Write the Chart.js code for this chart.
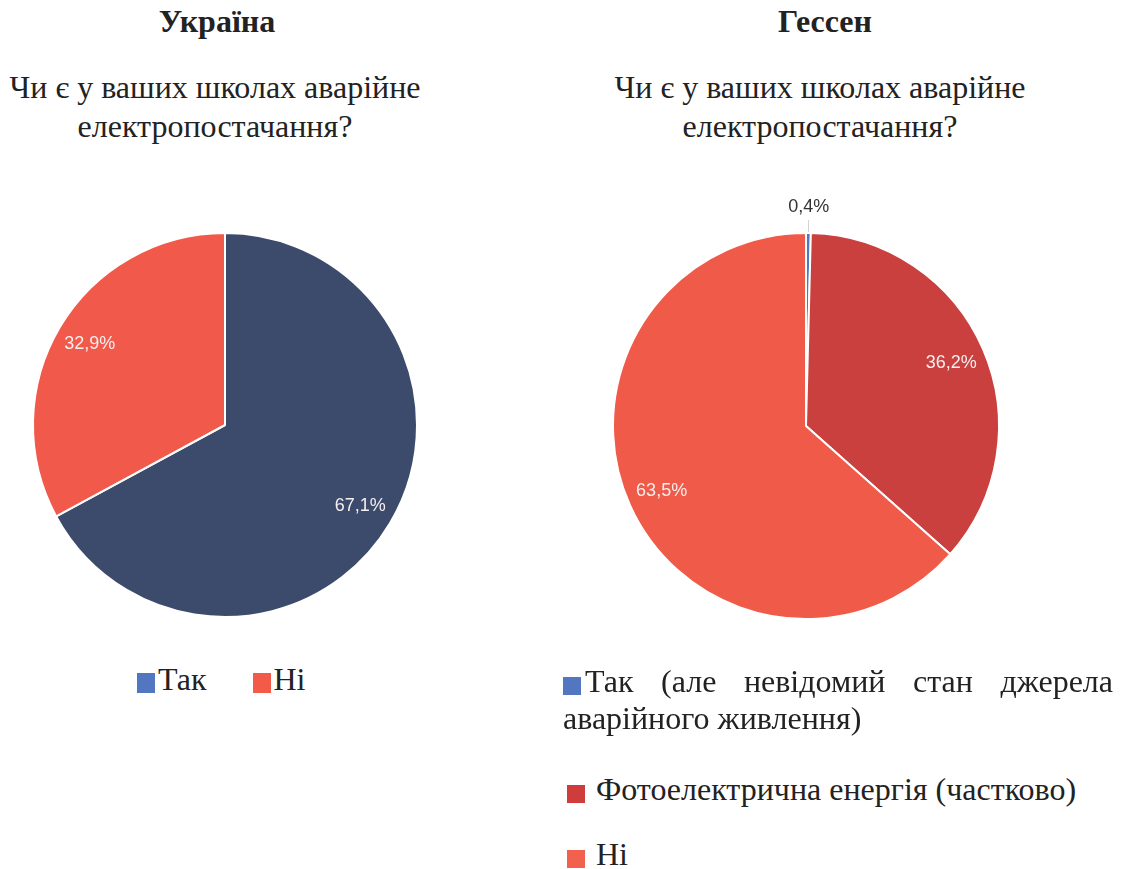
<!DOCTYPE html>
<html>
<head>
<meta charset="utf-8">
<script src="https://cdn.jsdelivr.net/npm/chart.js@4.4.1/dist/chart.umd.min.js"></script>
<style>
  body { margin: 0; background: #fff; width: 1127px; height: 869px; position: relative; overflow: hidden;
         font-family: "Liberation Serif", "Times New Roman", serif; color: #222; }
  .title { position: absolute; width: 440px; text-align: center; font-weight: bold; font-size: 32px; line-height: 36px; top: 3px; }
  .sub { position: absolute; width: 480px; text-align: center; font-size: 32px; line-height: 39px; top: 68px; }
  canvas { position: absolute; }
  .sq { display: inline-block; width: 18px; height: 18px; }
  .legL { position: absolute; top: 661px; left: 137px; font-size: 32px; line-height: 36px; white-space: nowrap; }
  .legR { position: absolute; left: 563px; width: 550px; font-size: 32px; line-height: 37px; }
</style>
</head>
<body>
<div class="title" style="left:-3px">Україна</div>
<div class="sub" style="left:-25px">Чи є у ваших школах аварійне<br>електропостачання?</div>
<div class="title" style="left:605px">Гессен</div>
<div class="sub" style="left:580px">Чи є у ваших школах аварійне<br>електропостачання?</div>

<canvas id="ukraine" width="440" height="440" style="left:5px;top:205px"></canvas>
<canvas id="hessen" width="500" height="500" style="left:556px;top:176px"></canvas>

<div class="legL" id="legendUkraine"></div>
<div id="legendHessen"></div>

<script>
const ukraineLabels = ['Так', 'Ні'];
const ukraineValues = [67.1, 32.9];

const hessenLabels = ['Так (але невідомий стан джерела аварійного живлення)', 'Фотоелектрична енергія (частково)', 'Ні'];
const hessenValues = [0.4, 36.2, 63.5];

const ukraineColors = ['#3c4a6c', '#f15a4a'];
const ukraineLegendColors = ['#5277c0', '#f35a48'];
const hessenColors = ['#5277c0', '#c9403f', '#f05a48'];
const hessenLegendColors = ['#5277c0', '#cf3c3c', '#f2604e'];

function fmt(v) {
  return v.toFixed(1).replace('.', ',') + '%';
}

// percent labels inside the slices, tiny slices get an outside label with a short line
const pctLabels = {
  id: 'pctLabels',
  afterDatasetsDraw(chart) {
    const ctx = chart.ctx;
    const meta = chart.getDatasetMeta(0);
    const values = chart.data.datasets[0].data;
    ctx.save();
    ctx.font = '18px "Liberation Sans", Arial, sans-serif';
    ctx.textAlign = 'center';
    ctx.textBaseline = 'middle';
    meta.data.forEach((arc, i) => {
      const p = arc.getProps(['x', 'y', 'startAngle', 'endAngle', 'outerRadius'], true);
      const mid = (p.startAngle + p.endAngle) / 2;
      const cos = Math.cos(mid), sin = Math.sin(mid);
      if (values[i] < 2) {
        ctx.strokeStyle = '#d0d0d0';
        ctx.lineWidth = 1;
        ctx.beginPath();
        ctx.moveTo(p.x + cos * (p.outerRadius + 1), p.y + sin * (p.outerRadius + 1));
        ctx.lineTo(p.x + cos * (p.outerRadius + 13), p.y + sin * (p.outerRadius + 13));
        ctx.stroke();
        ctx.fillStyle = '#333';
        ctx.fillText(fmt(values[i]), p.x + cos * (p.outerRadius + 26), p.y + sin * (p.outerRadius + 26));
      } else {
        const r = p.outerRadius * 0.82;
        ctx.fillStyle = '#f6eeee';
        ctx.fillText(fmt(values[i]), p.x + cos * r, p.y + sin * r);
      }
    });
    ctx.restore();
  }
};

function makePie(id, labels, values, colors, pad) {
  return new Chart(document.getElementById(id), {
    type: 'pie',
    data: {
      labels: labels,
      datasets: [{
        data: values,
        backgroundColor: colors,
        borderColor: '#ffffff',
        borderWidth: 2
      }]
    },
    options: {
      responsive: false,
      animation: false,
      layout: { padding: pad },
      plugins: {
        legend: { display: false },
        tooltip: { enabled: false }
      }
    },
    plugins: [pctLabels]
  });
}

makePie('ukraine', ukraineLabels, ukraineValues, ukraineColors, 27);
makePie('hessen', hessenLabels, hessenValues, hessenColors, 56);

// legends
const legU = document.getElementById('legendUkraine');
ukraineLabels.forEach((l, i) => {
  const s = document.createElement('span');
  s.style.marginRight = i === 0 ? '46px' : '0';
  s.innerHTML = '<span class="sq" style="background:' + ukraineLegendColors[i] +
    ';height:20px;vertical-align:-3px;margin-right:3px"></span>' + l;
  legU.appendChild(s);
});

const legH = document.getElementById('legendHessen');
const legTops = [663, 771, 836];
hessenLabels.forEach((l, i) => {
  const d = document.createElement('div');
  d.className = 'legR';
  d.style.top = legTops[i] + 'px';
  if (i === 0) {
    d.style.textAlign = 'justify';
    d.style.textAlignLast = 'left';
  }
  const sqStyle = i === 0
    ? 'margin-right:4px;vertical-align:-3px'
    : 'margin-left:4px;margin-right:11px;vertical-align:-3px';
  d.innerHTML = '<span class="sq" style="background:' + hessenLegendColors[i] + ';' + sqStyle + '"></span>' + l;
  legH.appendChild(d);
});
</script>
</body>
</html>
